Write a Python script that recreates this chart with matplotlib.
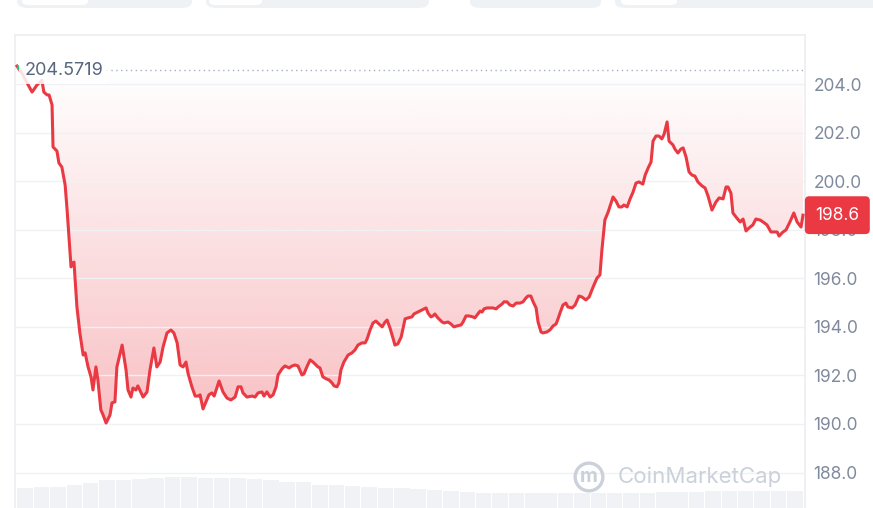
import numpy as np
import matplotlib
matplotlib.use("Agg")
import matplotlib.pyplot as plt
from matplotlib.patches import FancyBboxPatch, PathPatch
from matplotlib.transforms import blended_transform_factory

# hours since open (24h window) and price
hours = [0.00, 0.15, 0.31, 0.46, 0.61, 0.76, 0.82, 0.92, 0.98, 1.07, 1.10, 1.22, 1.28, 1.37, 1.47, 1.53,
         1.65, 1.71, 1.74, 1.83, 1.92, 2.02, 2.08, 2.17, 2.26, 2.32, 2.41, 2.47, 2.56, 2.63, 2.72, 2.84,
         2.90, 2.99, 3.05, 3.21, 3.33, 3.39, 3.48, 3.54, 3.63, 3.69, 3.79, 3.85, 3.97, 4.06, 4.18, 4.27,
         4.37, 4.46, 4.58, 4.70, 4.79, 4.89, 4.98, 5.07, 5.16, 5.22, 5.34, 5.44, 5.53, 5.59, 5.68, 5.77,
         5.86, 5.95, 6.02, 6.17, 6.29, 6.41, 6.53, 6.66, 6.75, 6.84, 6.90, 7.02, 7.18, 7.27, 7.36, 7.48,
         7.54, 7.63, 7.73, 7.82, 7.91, 7.97, 8.09, 8.18, 8.31, 8.40, 8.49, 8.58, 8.70, 8.76, 8.85, 8.95,
         9.04, 9.19, 9.25, 9.34, 9.44, 9.53, 9.62, 9.68, 9.77, 9.83, 9.89, 9.98, 10.11, 10.23, 10.32, 10.41,
         10.53, 10.63, 10.69, 10.78, 10.87, 10.96, 11.02, 11.15, 11.24, 11.30, 11.39, 11.48, 11.54, 11.63,
         11.73, 11.85, 11.94, 12.06, 12.12, 12.24, 12.37, 12.49, 12.55, 12.64, 12.70, 12.76, 12.85, 12.98,
         13.04, 13.16, 13.25, 13.34, 13.44, 13.56, 13.62, 13.71, 13.80, 13.92, 13.98, 14.05, 14.14, 14.20,
         14.26, 14.35, 14.44, 14.53, 14.63, 14.69, 14.81, 14.87, 14.96, 15.05, 15.15, 15.24, 15.36, 15.45,
         15.54, 15.60, 15.69, 15.76, 15.85, 15.91, 16.00, 16.06, 16.18, 16.27, 16.37, 16.46, 16.52, 16.58,
         16.67, 16.76, 16.82, 16.95, 17.04, 17.16, 17.25, 17.37, 17.47, 17.59, 17.71, 17.80, 17.86, 17.95,
         18.05, 18.14, 18.20, 18.29, 18.38, 18.47, 18.53, 18.63, 18.72, 18.81, 18.90, 18.99, 19.11, 19.18,
         19.27, 19.36, 19.42, 19.51, 19.60, 19.69, 19.76, 19.85, 19.91, 20.03, 20.09, 20.18, 20.27, 20.34,
         20.43, 20.52, 20.61, 20.70, 20.79, 20.92, 21.01, 21.10, 21.22, 21.34, 21.44, 21.56, 21.65, 21.71,
         21.80, 21.86, 21.98, 22.08, 22.17, 22.26, 22.35, 22.47, 22.56, 22.69, 22.78, 22.90, 23.02, 23.11,
         23.21, 23.27, 23.39, 23.48, 23.60, 23.72, 23.82, 23.94, 24.00]
prices = [204.74, 204.45, 204.04, 203.67, 203.96, 204.16, 203.67, 203.55, 203.55, 203.14, 201.41, 201.24,
          200.75, 200.58, 199.84, 198.81, 196.47, 196.63, 196.67, 194.82, 193.75, 192.84, 192.93, 192.35,
          191.94, 191.40, 192.35, 191.81, 190.58, 190.37, 190.04, 190.37, 190.87, 190.91, 192.35, 193.25,
          192.22, 191.40, 191.11, 191.48, 191.40, 191.57, 191.28, 191.11, 191.32, 192.22, 193.13, 192.35,
          192.55, 193.17, 193.75, 193.87, 193.75, 193.34, 192.43, 192.35, 192.55, 192.10, 191.53, 191.15,
          191.15, 191.20, 190.62, 190.91, 191.20, 191.28, 191.15, 191.77, 191.32, 191.07, 190.99, 191.11,
          191.53, 191.53, 191.28, 191.11, 191.15, 191.11, 191.28, 191.32, 191.15, 191.32, 191.11, 191.20,
          191.53, 192.02, 192.27, 192.39, 192.31, 192.39, 192.43, 192.39, 192.02, 192.06, 192.35, 192.64,
          192.55, 192.35, 192.31, 191.94, 191.86, 191.81, 191.69, 191.57, 191.53, 191.69, 192.22, 192.55,
          192.84, 192.93, 193.05, 193.25, 193.34, 193.34, 193.50, 193.87, 194.16, 194.24, 194.16, 194.00,
          194.20, 194.28, 193.95, 193.54, 193.25, 193.30, 193.58, 194.33, 194.37, 194.41, 194.53, 194.61,
          194.70, 194.78, 194.57, 194.41, 194.45, 194.53, 194.37, 194.20, 194.16, 194.20, 194.12, 194.00,
          194.04, 194.08, 194.20, 194.45, 194.45, 194.41, 194.37, 194.49, 194.65, 194.61, 194.74, 194.78,
          194.78, 194.78, 194.74, 194.82, 194.94, 195.03, 195.03, 194.90, 194.86, 194.98, 194.98, 195.03,
          195.19, 195.27, 195.27, 195.03, 194.78, 194.20, 193.79, 193.75, 193.79, 193.87, 194.04, 194.12,
          194.33, 194.57, 194.90, 194.98, 194.82, 194.78, 194.90, 195.27, 195.23, 195.11, 195.23, 195.64,
          196.01, 196.14, 197.17, 198.40, 198.73, 199.10, 199.35, 199.18, 198.94, 198.94, 199.02, 198.94,
          199.27, 199.55, 199.92, 199.97, 199.88, 200.25, 200.54, 200.79, 201.65, 201.86, 201.86, 201.74,
          201.94, 202.44, 201.65, 201.49, 201.32, 201.16, 201.32, 201.37, 200.99, 200.38, 200.25, 200.21,
          199.97, 199.80, 199.72, 199.39, 198.81, 199.14, 199.31, 199.27, 199.76, 199.76, 199.51, 198.69,
          198.48, 198.32, 198.44, 197.95, 198.07, 198.20, 198.44, 198.40, 198.32, 198.20, 197.91, 197.91,
          197.91, 197.74, 197.91, 197.99, 198.32, 198.69, 198.32, 198.11, 198.60]

open_price = 204.5719
last_price = 198.6

# volume per half hour (relative units)
vol_hours = np.arange(0, 24, 0.5)
volumes = [19.7, 20.5, 21.3, 23.0, 25.3, 28.0, 28.0, 29.0, 30.3, 31.3, 31.3, 30.3, 30.3, 30.3, 29.0, 28.0,
           26.3, 26.3, 23.0, 23.0, 22.0, 21.3, 19.7, 19.7, 18.7, 18.0, 17.3, 16.3, 15.3, 15.3, 15.3, 15.3,
           14.7, 14.7, 14.7, 14.7, 15.0, 15.3, 15.3, 16.3, 16.3, 16.3, 17.0, 17.3, 17.3, 17.3, 17.3, 17.3]

yticks = [188, 190, 192, 194, 196, 198, 200, 202, 204]
ytick_labels = ["188.0", "190.0", "192.0", "194.0", "196.0", "198.0", "200.0", "202.0", "204.0"]

RED = "#ea3943"
GREEN = "#16c784"
GRID = "#eff1f4"
TICK = "#808a9d"

plt.rcParams["font.family"] = ["Inter", "DejaVu Sans"]

W, H = 873, 508
fig = plt.figure(figsize=(W / 100, H / 100), dpi=100)


def fx(x):
    return x / W


def fy(y):
    return 1 - y / H


# tabs peeking in at the top
for x0, x1, inner in [(17, 192, (22, 88)), (206, 429, (209, 262)), (470, 601, None), (615, 890, (621, 677))]:
    fig.patches.append(FancyBboxPatch((fx(x0), fy(8)), fx(x1 - x0), 20 / H,
                                      boxstyle="round,pad=0,rounding_size=0.012",
                                      transform=fig.transFigure, fc="#eff2f5", ec="none"))
    if inner:
        fig.patches.append(FancyBboxPatch((fx(inner[0]), fy(5)), fx(inner[1] - inner[0]), 20 / H,
                                          boxstyle="round,pad=0,rounding_size=0.008",
                                          transform=fig.transFigure, fc="white", ec="none"))

ax = fig.add_axes([fx(15), 0, fx(790), 473 / H])
ax.set_xlim(-0.061, 24.061)
ax.set_ylim(186.54, 206.02)

# volume bars in the back
axv = ax.twinx()
axv.bar(vol_hours + 0.25, volumes, width=0.47, color="#f0f2f5", zorder=0)
axv.set_ylim(0, max(volumes) * 15.1)
axv.axis("off")
ax.set_zorder(axv.get_zorder() + 1)
ax.patch.set_visible(False)

t = np.array(hours)
p = np.array(prices)

ax.set_yticks(yticks)
ax.set_yticklabels(ytick_labels)
ax.yaxis.tick_right()
ax.tick_params(axis="y", length=0, pad=6, labelsize=12.5, labelcolor=TICK)
ax.set_xticks([])
ax.grid(axis="y", color=GRID, lw=1)
for side in ["top", "left", "right"]:
    ax.spines[side].set_color("#eceef2")
    ax.spines[side].set_linewidth(1.2)
ax.spines["bottom"].set_visible(False)

# gradient fill between price and open
poly = ax.fill_between(t, p, open_price, color="none")
clip = PathPatch(poly.get_paths()[0], transform=ax.transData, fc="none", ec="none")
ax.add_patch(clip)
grad = np.zeros((256, 1, 4))
grad[..., 0] = 234 / 255
grad[..., 1] = 57 / 255
grad[..., 2] = 67 / 255
grad[:, 0, 3] = np.linspace(0.32, 0.0, 256)
im = ax.imshow(grad, extent=[t[0], t[-1], p.min(), open_price], origin="lower",
               aspect="auto", zorder=1)
im.set_clip_path(clip)

ax.plot(t, p, color=RED, lw=2.2, zorder=3, solid_joinstyle="round")
g, = ax.plot(t, p, color=GREEN, lw=2.2, zorder=3.1)
upper = ax.fill_between([t[0], t[-1]], open_price, 206.02, color="none")
g.set_clip_path(PathPatch(upper.get_paths()[0], transform=ax.transData))

# open price reference
ax.axhline(open_price, xmin=0.115, color="#a6b0c3", lw=1, ls=(0, (1, 2.5)), zorder=2)
ax.text(0.22, open_price, "204.5719", fontsize=13, color="#58667e", va="center", ha="left",
        zorder=5, bbox=dict(boxstyle="square,pad=0.3", fc="white", ec="none", alpha=0.85))

# last price tag
tr = blended_transform_factory(ax.transAxes, ax.transData)
ax.text(1.013, last_price, "198.6", transform=tr, fontsize=12.5, color="white", va="center",
        ha="left", zorder=6, clip_on=False,
        bbox=dict(boxstyle="round,pad=0.6,rounding_size=0.25", fc=RED, ec="none"))

# watermark
fig.text(fx(589), fy(477), "m", fontsize=14, fontweight="bold", color="#cbd1db", ha="center", va="center",
         bbox=dict(boxstyle="circle,pad=0.25", fc="none", ec="#cbd1db", lw=2.4))
fig.text(fx(618), fy(477), "CoinMarketCap", fontsize=16, color="#cbd1db", ha="left", va="center")

fig.savefig("out.png", dpi=100)
